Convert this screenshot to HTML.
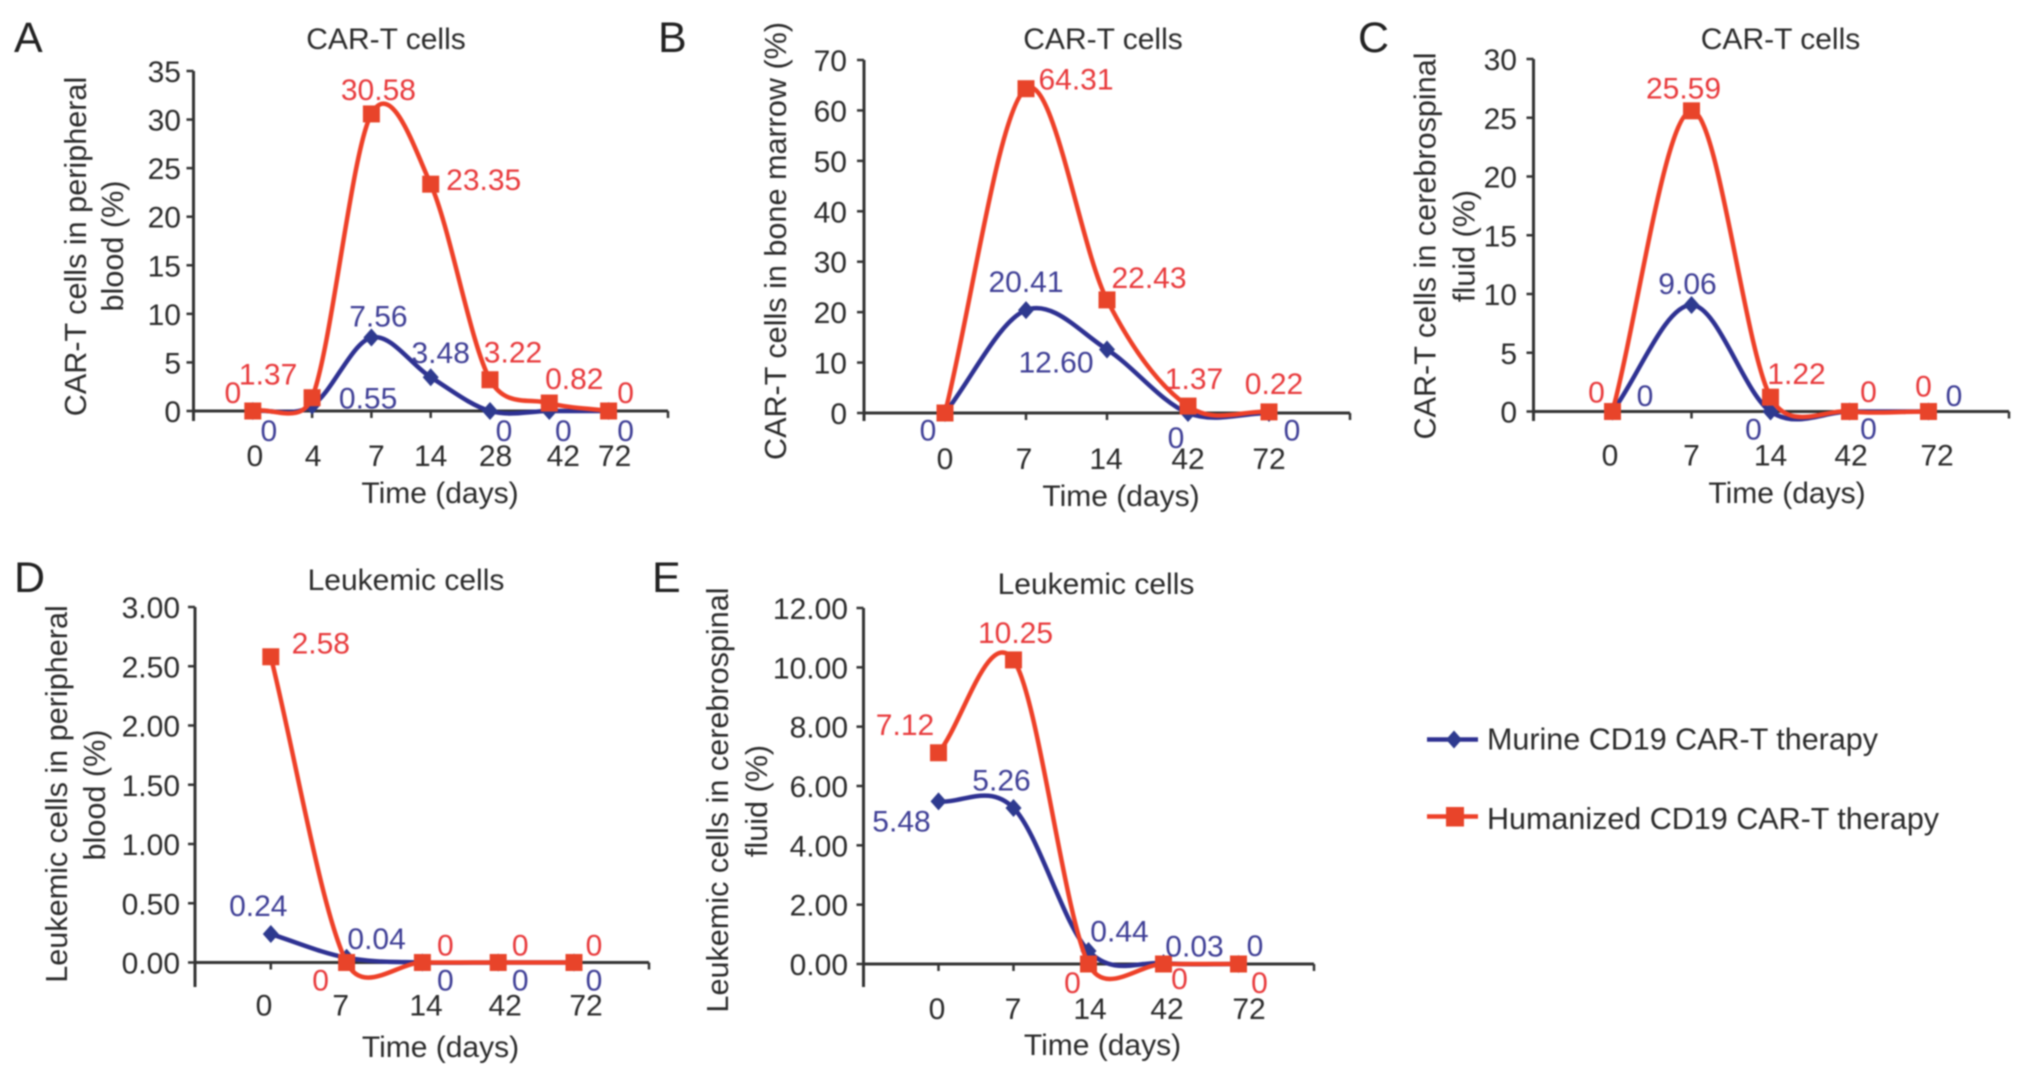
<!DOCTYPE html>
<html lang="en">
<head>
<meta charset="utf-8">
<title>CAR-T and leukemic cells over time</title>
<style>
html,body{margin:0;padding:0;background:#fff;}
body{width:2031px;height:1078px;overflow:hidden;}
svg{display:block;filter:blur(0.7px);font-family:"Liberation Sans",Arial,sans-serif;}
.t{font-size:30px;fill:#2b2b2b;}
.yt{font-size:30.6px;fill:#2b2b2b;}
.l{font-size:43px;fill:#222;}
</style>
</head>
<body>
<svg id="figure" width="2031" height="1078" viewBox="0 0 2031 1078" xmlns="http://www.w3.org/2000/svg">
  <rect width="2031" height="1078" fill="#ffffff"/>

  <text class="l" x="14" y="52">A</text>
  <text class="l" x="658" y="52">B</text>
  <text class="l" x="1358" y="52">C</text>
  <text class="l" x="14" y="592">D</text>
  <text class="l" x="652" y="592">E</text>

  <g id="panel-a">
    <text class="t" text-anchor="middle" x="386" y="49">CAR-T cells</text>
    <text class="yt" text-anchor="middle" transform="translate(86 246.5) rotate(-90)">CAR-T cells in peripheral</text>
    <text class="yt" text-anchor="middle" transform="translate(123 246) rotate(-90)">blood (%)</text>
    <text class="t" text-anchor="middle" x="440" y="503">Time (days)</text>
  </g>
  <g id="panel-b">
    <text class="t" text-anchor="middle" x="1103" y="49">CAR-T cells</text>
    <text class="yt" text-anchor="middle" transform="translate(786 241) rotate(-90)">CAR-T cells in bone marrow (%)</text>
    <text class="t" text-anchor="middle" x="1121" y="506">Time (days)</text>
  </g>
  <g id="panel-c">
    <text class="t" text-anchor="middle" x="1780.5" y="49">CAR-T cells</text>
    <text class="yt" text-anchor="middle" transform="translate(1435.5 246) rotate(-90)">CAR-T cells in cerebrospinal</text>
    <text class="yt" text-anchor="middle" transform="translate(1474.5 246) rotate(-90)">fluid (%)</text>
    <text class="t" text-anchor="middle" x="1787" y="503">Time (days)</text>
  </g>
  <g id="panel-d">
    <text class="t" text-anchor="middle" x="406" y="590">Leukemic cells</text>
    <text class="yt" text-anchor="middle" transform="translate(67 794) rotate(-90)">Leukemic cells in peripheral</text>
    <text class="yt" text-anchor="middle" transform="translate(105 795) rotate(-90)">blood (%)</text>
    <text class="t" text-anchor="middle" x="440.5" y="1057">Time (days)</text>
  </g>
  <g id="panel-e">
    <text class="t" text-anchor="middle" x="1096" y="594">Leukemic cells</text>
    <text class="yt" text-anchor="middle" transform="translate(728 800) rotate(-90)">Leukemic cells in cerebrospinal</text>
    <text class="yt" text-anchor="middle" transform="translate(767 801) rotate(-90)">fluid (%)</text>
    <text class="t" text-anchor="middle" x="1102.5" y="1055">Time (days)</text>
  </g>

  <g id="legend">
    <g>
      <line x1="1427" y1="739.5" x2="1478" y2="739.5" stroke="#2e3192" stroke-width="4.5"/>
      <polygon points="1454,730.5 1462,739.5 1454,748.5 1446,739.5" fill="#2e3a8f"/>
      <text class="t" style="font-size:30.5px" x="1487" y="749.5">Murine CD19 CAR-T therapy</text>
    </g>
    <g>
      <line x1="1427" y1="816.5" x2="1478" y2="816.5" stroke="#ee4028" stroke-width="4.5"/>
      <rect x="1446" y="807" width="18" height="19.5" fill="#e8442a"/>
      <text class="t" style="font-size:30.5px" x="1487" y="829">Humanized CD19 CAR-T therapy</text>
    </g>
  </g>
</svg>

<script>
/* ---------- Panel A data ---------- */
const aCategories = ['0', '4', '7', '14', '28', '42', '72'];
const aMurine = [0, 0.55, 7.56, 3.48, 0, 0, 0];
const aHumanized = [0, 1.37, 30.58, 23.35, 3.22, 0.82, 0];
const aMurineLabels = ['0', '0.55', '7.56', '3.48', '0', '0', '0'];
const aHumanizedLabels = ['0', '1.37', '30.58', '23.35', '3.22', '0.82', '0'];
const aYTicks = [0, 5, 10, 15, 20, 25, 30, 35];
const aYTickLabels = ['0', '5', '10', '15', '20', '25', '30', '35'];

/* ---------- Panel B data ---------- */
const bCategories = ['0', '7', '14', '42', '72'];
const bMurine = [0, 20.41, 12.60, 0, 0];
const bHumanized = [0, 64.31, 22.43, 1.37, 0.22];
const bMurineLabels = ['0', '20.41', '12.60', '0', '0'];
const bHumanizedLabels = ['', '64.31', '22.43', '1.37', '0.22'];
const bYTicks = [0, 10, 20, 30, 40, 50, 60, 70];
const bYTickLabels = ['0', '10', '20', '30', '40', '50', '60', '70'];

/* ---------- Panel C data ---------- */
const cCategories = ['0', '7', '14', '42', '72'];
const cMurine = [0, 9.06, 0, 0, 0];
const cHumanized = [0, 25.59, 1.22, 0, 0];
const cMurineLabels = ['0', '9.06', '0', '0', '0'];
const cHumanizedLabels = ['0', '25.59', '1.22', '0', '0'];
const cYTicks = [0, 5, 10, 15, 20, 25, 30];
const cYTickLabels = ['0', '5', '10', '15', '20', '25', '30'];

/* ---------- Panel D data ---------- */
const dCategories = ['0', '7', '14', '42', '72'];
const dMurine = [0.24, 0.04, 0, 0, 0];
const dHumanized = [2.58, 0, 0, 0, 0];
const dMurineLabels = ['0.24', '0.04', '0', '0', '0'];
const dHumanizedLabels = ['2.58', '0', '0', '0', '0'];
const dYTicks = [0, 0.5, 1, 1.5, 2, 2.5, 3];
const dYTickLabels = ['0.00', '0.50', '1.00', '1.50', '2.00', '2.50', '3.00'];

/* ---------- Panel E data ---------- */
const eCategories = ['0', '7', '14', '42', '72'];
const eMurine = [5.48, 5.26, 0.44, 0.03, 0];
const eHumanized = [7.12, 10.25, 0, 0, 0];
const eMurineLabels = ['5.48', '5.26', '0.44', '0.03', '0'];
const eHumanizedLabels = ['7.12', '10.25', '0', '0', '0'];
const eYTicks = [0, 2, 4, 6, 8, 10, 12];
const eYTickLabels = ['0.00', '2.00', '4.00', '6.00', '8.00', '10.00', '12.00'];

/* ---------- Layout (pixels; separate from the data) ---------- */
const panelLayouts = [
  { id: 'panel-a', left: 193.5, step: 59.3, right: 668, zero: 411, top: 71, bottom: 421, labelRight: 181, catBase: 466,
    categories: aCategories, murine: aMurine, humanized: aHumanized, murineLabels: aMurineLabels, humanizedLabels: aHumanizedLabels, yTicks: aYTicks, yTickLabels: aYTickLabels,
    catDx: [2, 1, 5, 0, 5.5, 14, 6],
    redOff: [[-20, -8], [-44, -13], [7, -14], [53, 6], [23, -17], [25, -14], [17, -8]],
    blueOff: [[16, 30], [56, 3], [7, -11], [10, -14], [14, 30], [14, 30], [17, 30]] },
  { id: 'panel-b', left: 864, step: 81, right: 1350, zero: 413, top: 60, bottom: 421, labelRight: 847, catBase: 469,
    categories: bCategories, murine: bMurine, humanized: bHumanized, murineLabels: bMurineLabels, humanizedLabels: bHumanizedLabels, yTicks: bYTicks, yTickLabels: bYTickLabels,
    catDx: [0, -2, -1, 0, 0],
    redOff: [[0, 0], [50, 1], [42, -12], [6, -17], [5, -18]],
    blueOff: [[-17, 27.5], [0, -18], [-51, 23], [-12, 35], [23, 27.5]] },
  { id: 'panel-c', left: 1533.5, step: 79, right: 2009, zero: 411.5, top: 59, bottom: 421, labelRight: 1517, catBase: 465.5,
    categories: cCategories, murine: cMurine, humanized: cHumanized, murineLabels: cMurineLabels, humanizedLabels: cHumanizedLabels, yTicks: cYTicks, yTickLabels: cYTickLabels,
    catDx: [-2.5, 0, 0, 1.5, 8.5],
    redOff: [[-16, -9], [-8, -12.5], [26, -13], [19, -9.5], [-5, -15]],
    blueOff: [[32.5, -5.5], [-4, -11], [-17, 28], [19, 27.5], [25.5, -5.5]] },
  { id: 'panel-d', left: 195, step: 75.8, right: 649, zero: 962.5, top: 607, bottom: 987, labelRight: 180, catBase: 1015.5,
    categories: dCategories, murine: dMurine, humanized: dHumanized, murineLabels: dMurineLabels, humanizedLabels: dHumanizedLabels, yTicks: dYTicks, yTickLabels: dYTickLabels,
    catDx: [-6.8, -5.9, 3.6, 7, 12],
    redOff: [[50, -3.5], [-26, 28], [23, -7], [22, -7], [20, -7]],
    blueOff: [[-12.5, -18], [30, -9], [23, 28], [22, 28], [20, 28]] },
  { id: 'panel-e', left: 863.5, step: 75, right: 1314, zero: 964, top: 608, bottom: 987, labelRight: 848, catBase: 1019,
    categories: eCategories, murine: eMurine, humanized: eHumanized, murineLabels: eMurineLabels, humanizedLabels: eHumanizedLabels, yTicks: eYTicks, yTickLabels: eYTickLabels,
    catDx: [-1.5, -0.5, 1.5, 3.5, 10.5],
    redOff: [[-33.5, -18], [2, -17], [-16, 29], [16, 25], [21, 29]],
    blueOff: [[-37, 30], [-12, -17.5], [31, -9.5], [31, -6.5], [16.5, -8]] }
];

const SVG_NS = 'http://www.w3.org/2000/svg';
const AXIS_COLOR = '#333333';
const RED_LINE = '#ee4028';
const RED_MARK = '#e8442a';
const RED_TEXT = '#e83a3c';
const BLUE_LINE = '#2e3192';
const BLUE_MARK = '#2e3a8f';
const BLUE_TEXT = '#3f3f96';

function make(tag, attrs, parent) {
  const node = document.createElementNS(SVG_NS, tag);
  for (const k in attrs) node.setAttribute(k, attrs[k]);
  parent.appendChild(node);
  return node;
}

/* Spreadsheet-style smoothed line: handle length follows the chord length,
   with its horizontal reach capped at a third of the segment width */
function handle(a, b, chord, span) {
  const K = 0.5;
  const s = Math.hypot(b[0] - a[0], b[1] - a[1]) || 1;
  let hx = (b[0] - a[0]) * K * chord / s;
  let hy = (b[1] - a[1]) * K * chord / s;
  const limit = span * 0.33;
  if (Math.abs(hx) > limit) {
    const f = limit / Math.abs(hx);
    hx *= f;
    hy *= f;
  }
  return [hx, hy];
}

function smoothPath(pts) {
  let d = 'M' + pts[0][0] + ' ' + pts[0][1];
  for (let i = 0; i < pts.length - 1; i++) {
    const p0 = pts[Math.max(i - 1, 0)];
    const p1 = pts[i];
    const p2 = pts[i + 1];
    const p3 = pts[Math.min(i + 2, pts.length - 1)];
    const chord = Math.hypot(p2[0] - p1[0], p2[1] - p1[1]);
    const span = p2[0] - p1[0];
    const h1 = handle(p0, p2, chord, span);
    const h2 = handle(p1, p3, chord, span);
    d += ' C' + (p1[0] + h1[0]).toFixed(2) + ' ' + (p1[1] + h1[1]).toFixed(2) + ' ' + (p2[0] - h2[0]).toFixed(2) + ' ' + (p2[1] - h2[1]).toFixed(2) + ' ' + p2[0].toFixed(2) + ' ' + p2[1].toFixed(2);
  }
  return d;
}

function drawPanel(p) {
  const root = document.getElementById(p.id);
  const yMax = p.yTicks[p.yTicks.length - 1];
  const xScale = i => p.left + p.step * (i + 1);
  const yScale = v => p.zero - (v / yMax) * (p.zero - p.top);

  /* axes */
  const yAxis = make('line', { x1: p.left, x2: p.left, y1: p.top, y2: p.bottom, stroke: AXIS_COLOR, 'stroke-width': 3 }, root);
  
  
  const xAxis = make('line', { x1: p.left, x2: p.right, y1: p.zero, y2: p.zero, stroke: AXIS_COLOR, 'stroke-width': 3 }, root);
  
  
  const endTick = make('line', { x1: p.right, x2: p.right, y1: p.zero, y2: p.zero + 7, stroke: AXIS_COLOR, 'stroke-width': 2.5 }, root);
  
  

  /* y ticks */
  p.yTicks.forEach((v, i) => {
    const y = yScale(v);
    const tick = make('line', { x1: p.left - 7, x2: p.left, y1: y, y2: y, stroke: AXIS_COLOR, 'stroke-width': 2.5 }, root);
    
    
    const label = make('text', { class: 't', x: p.labelRight, y: y + 11, 'text-anchor': 'end' }, root);
    
    
    label.textContent = p.yTickLabels[i];
  });

  /* x ticks + category labels */
  p.categories.forEach((c, i) => {
    const x = xScale(i);
    const tick = make('line', { x1: x, x2: x, y1: p.zero, y2: p.zero + 7, stroke: AXIS_COLOR, 'stroke-width': 2.5 }, root);
    
    
    const label = make('text', { class: 't', x: x + p.catDx[i], y: p.catBase, 'text-anchor': 'middle' }, root);
    
    
    label.textContent = c;
  });

  /* murine series */
  const bluePts = p.murine.map((v, i) => [xScale(i), yScale(v)]);
  const blueLine = make('path', { d: smoothPath(bluePts), fill: 'none', stroke: BLUE_LINE, 'stroke-width': 4.5, 'stroke-linejoin': 'round' }, root);
  
  
  bluePts.forEach(pt => {
    const mark = make('polygon', { points: [pt[0], pt[1] - 9, pt[0] + 8, pt[1], pt[0], pt[1] + 9, pt[0] - 8, pt[1]].join(' '), fill: BLUE_MARK }, root);
    
    
  });

  /* humanized series */
  const redPts = p.humanized.map((v, i) => [xScale(i), yScale(v)]);
  const redLine = make('path', { d: smoothPath(redPts), fill: 'none', stroke: RED_LINE, 'stroke-width': 4.5, 'stroke-linejoin': 'round' }, root);
  
  
  redPts.forEach(pt => {
    const mark = make('rect', { x: pt[0] - 8.5, y: pt[1] - 8.5, width: 17, height: 17, fill: RED_MARK }, root);
    
    
  });

  /* printed values */
  p.murineLabels.forEach((txt, i) => {
    if (!txt) return;
    const label = make('text', { class: 't', x: bluePts[i][0] + p.blueOff[i][0], y: bluePts[i][1] + p.blueOff[i][1], 'text-anchor': 'middle', style: 'fill:' + BLUE_TEXT }, root);
    
    
    label.textContent = txt;
  });
  p.humanizedLabels.forEach((txt, i) => {
    if (!txt) return;
    const label = make('text', { class: 't', x: redPts[i][0] + p.redOff[i][0], y: redPts[i][1] + p.redOff[i][1], 'text-anchor': 'middle', style: 'fill:' + RED_TEXT }, root);
    
    
    label.textContent = txt;
  });
}

panelLayouts.forEach(drawPanel);
</script>
</body>
</html>
